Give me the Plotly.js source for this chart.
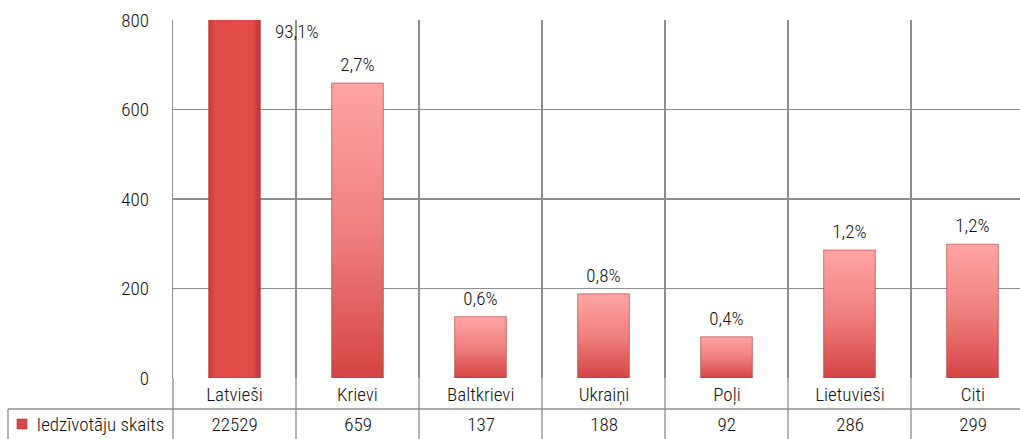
<!DOCTYPE html>
<html><head><meta charset="utf-8">
<script src="https://cdn.plot.ly/plotly-3.0.1.min.js"></script>
<style>html,body{margin:0;padding:0;overflow:hidden;background:#fff}
.main-svg text{font-stretch:condensed !important; font-weight:300 !important;}</style>
</head><body><div id="chart"></div>
<script>
const categories = ['Latvieši','Krievi','Baltkrievi','Ukraiņi','Poļi','Lietuvieši','Citi'];
const residents = [22529, 659, 137, 188, 92, 286, 299];
const shares = ['93,1%','2,7%','0,6%','0,8%','0,4%','1,2%','1,2%'];
const seriesName = 'Iedzīvotāju skaits';
const yTicks = [0, 200, 400, 600, 800];
const yMax = 800;

const FONT = 'Roboto, "DejaVu Sans", sans-serif';
const FS = 19;
const GRID = '#8f8f8f';
const W = 1040, H = 439, ML = 173, MR = 6, MT = 20, MB = 61;
const plotH = H - MT - MB, plotW = W - ML - MR;
const py = px => -(px) / plotH;          // pixels below plot bottom -> paper y
const pxX = px => (px - ML) / plotW;      // page x -> paper x

const trace = {
  type: 'bar', x: categories, y: residents, name: seriesName,
  width: 0.42,
  marker: {color: categories.map((c, i) => i === 0 ? '#e04846' : '#f07a7a'),
           line: {color: '#b43434', width: 0.6}},
  hoverinfo: 'none', showlegend: false
};

const shapes = [];
shapes.push({type:'line', xref:'paper', yref:'paper', x0:pxX(8), x1:1, y0:py(31), y1:py(31), line:{color:GRID, width:1.3}});
shapes.push({type:'line', xref:'paper', yref:'paper', x0:pxX(8), x1:pxX(8), y0:py(31), y1:py(80), line:{color:GRID, width:1.3}});
for (let k = 0; k <= categories.length; k++) {
  shapes.push({type:'line', xref:'x domain', yref:'paper', x0:k/categories.length, x1:k/categories.length, y0:0, y1:py(80), line:{color:GRID, width:1.3}});
}
shapes.push({type:'rect', xref:'paper', yref:'paper', x0:pxX(17), x1:pxX(27), y0:py(41), y1:py(51), fillcolor:'#d44a4a', line:{color:'#a83030', width:0.6}});

const annotations = [];
const tf = {family:FONT, size:FS, color:'#111'};
categories.forEach((c, i) => {
  annotations.push({x:c, xref:'x', y:py(16), yref:'paper', text:c, showarrow:false, yanchor:'middle', font:tf});
  annotations.push({x:c, xref:'x', y:py(46), yref:'paper', text:String(residents[i]), showarrow:false, yanchor:'middle', font:tf});
  const clipped = residents[i] > yMax;
  annotations.push({x:c, xref:'x', y:Math.min(residents[i], yMax), yref:'y', text:shares[i], showarrow:false,
    xanchor: 'center', yanchor: clipped ? 'top' : 'bottom',
    xshift: clipped ? 62 : 0, yshift: clipped ? 2 : 5, font:tf});
});
annotations.push({x:pxX(100), xref:'paper', y:py(46), yref:'paper', text:seriesName, showarrow:false, xanchor:'center', yanchor:'middle', font:tf});

const layout = {
  width: W, height: H,
  margin: {l:ML, r:MR, t:MT, b:MB, pad:0},
  paper_bgcolor:'#fff', plot_bgcolor:'#fff',
  font:tf,
  xaxis: {type:'category', showticklabels:false, tickson:'boundaries', showgrid:true, gridcolor:GRID, gridwidth:1.3,
          ticks:'', showline:false, zeroline:false, range:[-0.5, categories.length-0.5], fixedrange:true},
  yaxis: {range:[0, yMax], tickvals:yTicks, ticktext:yTicks.map(String), showgrid:true, gridcolor:GRID, gridwidth:1.3,
          zeroline:false, showline:true, linecolor:GRID, linewidth:1.3, ticks:'', ticklabelstandoff:19,
          tickfont:tf, fixedrange:true},
  shapes, annotations
};

Plotly.newPlot('chart', [trace], layout, {displayModeBar:false, staticPlot:true}).then(gd => {
  const svg = gd.querySelector('svg.main-svg');
  const ns = 'http://www.w3.org/2000/svg';
  const defs = svg.querySelector('defs') || svg.insertBefore(document.createElementNS(ns, 'defs'), svg.firstChild);
  function grad(id, x2, y2, stops) {
    const g = document.createElementNS(ns, 'linearGradient');
    g.setAttribute('id', id); g.setAttribute('x1', '0'); g.setAttribute('y1', '0');
    g.setAttribute('x2', x2); g.setAttribute('y2', y2);
    stops.forEach(([o, c]) => { const s = document.createElementNS(ns, 'stop'); s.setAttribute('offset', o); s.setAttribute('stop-color', c); g.appendChild(s); });
    defs.appendChild(g);
  }
  grad('gMain', '1', '0', [['0', '#c93a3a'], ['0.12', '#e04a48'], ['0.85', '#e24c4a'], ['1', '#b83434']]);
  grad('gLight', '0', '1', [['0', '#ffa4a4'], ['0.5', '#f08080'], ['1', '#d44444']]);
  gd.querySelectorAll('.barlayer .point path').forEach((p, i) => {
    p.style.fill = i === 0 ? 'url(#gMain)' : 'url(#gLight)';
  });
});
</script></body></html>
